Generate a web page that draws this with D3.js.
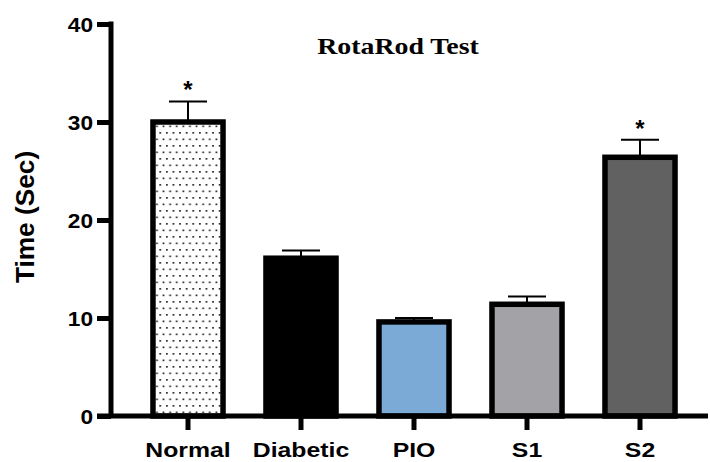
<!DOCTYPE html>
<html>
<head>
<meta charset="utf-8">
<script src="https://cdn.jsdelivr.net/npm/d3@7"></script>
<style>
  html, body { margin: 0; padding: 0; background: #fff; }
  svg { display: block; }
  .lbl { font-family: "Liberation Sans", Arial, sans-serif; font-weight: bold; fill: #000; }
</style>
</head>
<body>
<div id="chart"></div>
<script>
// RotaRod latency to fall, mean with upper SEM
const groups = ["Normal", "Diabetic", "PIO", "S1", "S2"];
const means = [30.0, 16.1, 9.6, 11.4, 26.4];
const errors = [2.1, 0.8, 0.4, 0.8, 1.8];
const significant = [true, false, false, false, true];
const fills = ["url(#dots)", "#000000", "#7aaad5", "#a3a3a7", "#616161"];
const yTicks = [0, 10, 20, 30, 40];

const W = 710, H = 462;
const svg = d3.select("#chart").append("svg").attr("width", W).attr("height", H);

// dotted fill for the control group
const pat = svg.append("defs").append("pattern")
  .attr("id", "dots").attr("patternUnits", "userSpaceOnUse")
  .attr("width", 6.6).attr("height", 13);
pat.append("rect").attr("width", 6.6).attr("height", 13).attr("fill", "#fff");
pat.append("rect").attr("x", 1).attr("y", 2).attr("width", 1.7).attr("height", 1.7).attr("fill", "#222");
pat.append("rect").attr("x", 4.3).attr("y", 8.5).attr("width", 1.7).attr("height", 1.7).attr("fill", "#222");

const y = d3.scaleLinear().domain([0, 40]).range([416, 24]);
const x = d3.scaleBand().domain(groups).range([131.5, 696.5]).paddingInner(0.38).paddingOuter(0.19);

// bars
const bars = svg.append("g");
groups.forEach((g, i) => {
  const bx = x(g), bw = x.bandwidth();
  // error bar (upper only)
  const cx = bx + bw / 2;
  bars.append("line").attr("x1", cx).attr("x2", cx)
    .attr("y1", y(means[i])).attr("y2", y(means[i] + errors[i]))
    .attr("stroke", "#000").attr("stroke-width", 2);
  bars.append("line").attr("x1", cx - 19).attr("x2", cx + 19)
    .attr("y1", y(means[i] + errors[i])).attr("y2", y(means[i] + errors[i]))
    .attr("stroke", "#000").attr("stroke-width", 2);
  bars.append("rect")
    .attr("x", bx).attr("width", bw)
    .attr("y", y(means[i])).attr("height", y(0) - y(means[i]))
    .attr("fill", fills[i]).attr("stroke", "#000").attr("stroke-width", 5.5);
  if (significant[i]) {
    bars.append("text").attr("class", "lbl")
      .attr("x", cx).attr("y", y(means[i] + errors[i]) - 3)
      .attr("text-anchor", "middle").attr("font-size", 24)
      .text("*");
  }
});

// y axis
const yAxis = svg.append("g").attr("transform", "translate(111,0)")
  .call(d3.axisLeft(y).tickValues(yTicks).tickSize(14).tickPadding(4));
yAxis.select(".domain").attr("stroke", "#000").attr("stroke-width", 5)
  .attr("d", `M0,${y(40) - 2.5}V${y(0)}`);
yAxis.selectAll(".tick line").attr("stroke", "#000").attr("stroke-width", 5);
yAxis.selectAll(".tick text").attr("class", "lbl").attr("font-size", 21)
  .attr("dy", "0.36em")
  .attr("transform", "scale(1.08,1)").attr("x", -18 / 1.08);

// x axis
const xAxis = svg.append("g").attr("transform", `translate(0,${y(0)})`)
  .call(d3.axisBottom(x).tickSize(14).tickPadding(8));
xAxis.select(".domain").attr("stroke", "#000").attr("stroke-width", 5)
  .attr("d", "M97,0H708");
xAxis.selectAll(".tick line").attr("stroke", "#000").attr("stroke-width", 5);
xAxis.selectAll(".tick text").attr("class", "lbl").attr("font-size", 21)
  .attr("y", 41).attr("dy", 0)
  .attr("transform", "scale(1.18,1)");

// y-axis title
svg.append("text").attr("class", "lbl")
  .attr("transform", "translate(34,217) rotate(-90) scale(1.05,1)")
  .attr("text-anchor", "middle").attr("font-size", 25)
  .text("Time (Sec)");

// chart title
svg.append("text")
  .attr("transform", "translate(398,54) scale(1.16,1)")
  .attr("text-anchor", "middle")
  .attr("font-family", "'Liberation Serif', 'DejaVu Serif', serif")
  .attr("font-weight", "bold").attr("font-size", 24)
  .text("RotaRod Test");
</script>
</body>
</html>
